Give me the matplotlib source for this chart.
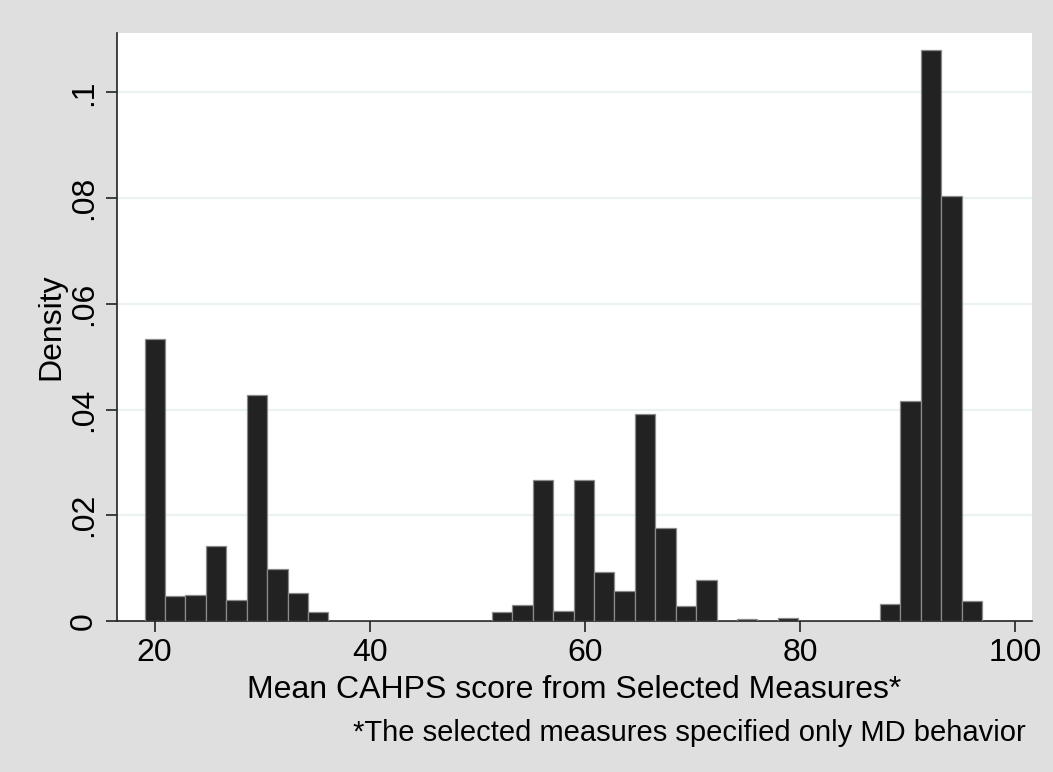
import numpy as np
import matplotlib
matplotlib.use("Agg")
import matplotlib.pyplot as plt

plt.rcParams['font.family'] = ['Liberation Sans', 'DejaVu Sans']

# histogram of mean CAHPS scores (density scale), 41 bins
bin_start = 19.07
bin_width = 1.899
density = [0.0534, 0.00464, 0.00487, 0.01423, 0.00397, 0.04277, 0.00981, 0.00532, 0.00172,
           0, 0, 0, 0, 0, 0, 0, 0,
           0.00164, 0.00309, 0.02669, 0.00196, 0.02662, 0.00934, 0.00574, 0.03924,
           0.0176, 0.0029, 0.00782, 0, 0.00044, 0, 0.00059, 0, 0, 0, 0,
           0.00317, 0.04162, 0.1080, 0.08044, 0.00383]
x_ticks = [20, 40, 60, 80, 100]
y_ticks = [0, 0.02, 0.04, 0.06, 0.08, 0.1]
y_tick_labels = ['0', '.02', '.04', '.06', '.08', '.1']

edges = bin_start + bin_width * np.arange(len(density))

fig = plt.figure(figsize=(10.53, 7.72), dpi=100, facecolor='#dfdfdf')
ax = fig.add_axes([0.111, 0.1956, 0.869, 0.7614])
ax.set_facecolor('white')

ax.bar(edges, density, width=bin_width, align='edge', color='#222222',
       edgecolor='#8a8a8a', linewidth=0.9, zorder=3)

ax.set_xlim(16.5, 101.55)
ax.set_ylim(0, 0.1112)

ax.set_yticks(y_ticks)
ax.set_yticklabels(y_tick_labels, rotation=90, va='center')
ax.set_xticks(x_ticks)
for y in y_ticks[1:]:
    ax.axhline(y, color='#eaf2f3', linewidth=1.6, zorder=1)

for side in ['top', 'right']:
    ax.spines[side].set_visible(False)
for side in ['left', 'bottom']:
    ax.spines[side].set_linewidth(1.2)
    ax.spines[side].set_color('#222222')
ax.tick_params(axis='both', direction='out', length=8, width=1.2, color='#222222',
               labelsize=23)
ax.tick_params(axis='x', pad=4)
ax.tick_params(axis='y', pad=5)

ax.set_xlabel('Mean CAHPS score from Selected Measures*', fontsize=23, labelpad=5)
ax.set_ylabel('Density', fontsize=23, labelpad=2)

fig.text(0.974, 0.0505, '*The selected measures specified only MD behavior',
         fontsize=21, ha='right', va='center')

fig.savefig('out.png', dpi=100, facecolor=fig.get_facecolor())
